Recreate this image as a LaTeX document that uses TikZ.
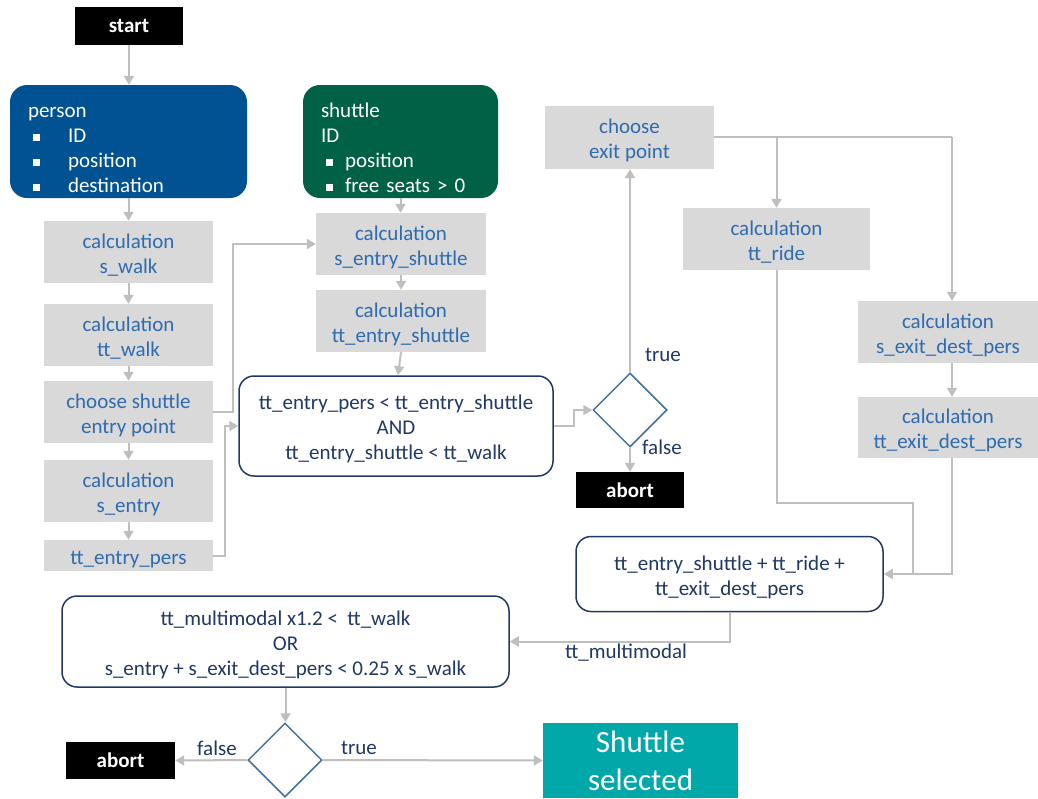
\documentclass[tikz,border=0pt]{standalone}
\usepackage{fontspec}
\setmainfont{Carlito}
\usetikzlibrary{arrows.meta,shapes.geometric}
\definecolor{boxgray}{RGB}{217,217,217}
\definecolor{txtblue}{RGB}{46,107,175}
\definecolor{navy}{RGB}{32,56,100}
\definecolor{diablue}{RGB}{65,113,156}
\definecolor{argray}{RGB}{191,191,191}
\definecolor{personblue}{RGB}{0,82,147}
\definecolor{shuttlegreen}{RGB}{0,97,71}
\definecolor{tealsel}{RGB}{0,168,170}
\newcommand\fsn{\fontsize{21}{25}\selectfont}
\newcommand\bul{\hspace*{5pt}\rule[1.5pt]{7pt}{7pt}}
\newcommand\lowstrut{\rule{0pt}{21pt}}
\tikzset{
  gbox/.style={fill=boxgray, text=txtblue, minimum width=169pt, minimum height=62pt, inner sep=0pt, align=center, font=\fsn},
  blk/.style={fill=black, text=white, inner sep=0pt, font=\fsn\bfseries},
  cond/.style={draw=navy, line width=1.5pt, rounded corners=15pt, text=navy, align=center, inner sep=0pt, font=\fsn},
  dia/.style={diamond, draw=diablue, line width=1.5pt, minimum width=74pt, minimum height=74pt, inner sep=0pt},
  pbox/.style={rounded corners=17pt, text=white, align=left, inner ysep=0pt, font=\fsn, minimum height=113pt},
  arr/.style={draw=argray, line width=2pt, -{Triangle[width=10pt,length=9pt]}},
  ln/.style={draw=argray, line width=2pt},
  lbl/.style={text=navy, font=\fsn, inner sep=0pt}
}
\begin{document}
\begin{tikzpicture}[x=1pt,y=-1pt]
\useasboundingbox (0,0) rectangle (1038,798);
% left column
\node[blk, minimum width=108pt, minimum height=38pt] (start) at (129,26) {start};
\node[pbox, fill=personblue, text width=201pt, inner xsep=18pt] (person) at (128.5,141.5)
  {\rule{0pt}{27pt}person\\ \bul\hspace{28pt}ID\\ \bul\hspace{28pt}position\\ \bul\hspace{28pt}destination};
\node[gbox] (swalk) at (128.5,252) {\lowstrut calculation\\s\_walk};
\node[gbox] (ttwalk) at (128.5,335) {\lowstrut calculation\\tt\_walk};
\node[gbox] (chse) at (128.5,412) {\lowstrut choose shuttle\\entry point};
\node[gbox] (sentry) at (128.5,491) {\lowstrut calculation\\s\_entry};
\node[gbox, minimum height=31pt] (tepers) at (128.5,555.5) {\lowstrut tt\_entry\_pers};
% shuttle column
\node[pbox, fill=shuttlegreen, text width=159pt, inner xsep=18pt, minimum width=195pt] (shuttle) at (400.5,141.5)
  {\rule{0pt}{27pt}shuttle\\ID\\ \bul\hspace{12pt}position\\ \bul\hspace{12pt}free seats > 0};
\node[gbox, minimum width=170pt] (sesh) at (401,244) {\lowstrut calculation\\s\_entry\_shuttle};
\node[gbox, minimum width=170pt] (tesh) at (401,321) {\lowstrut calculation\\tt\_entry\_shuttle};
\node[cond, minimum width=314pt, minimum height=100pt] (cond1) at (396,426)
  {\lowstrut tt\_entry\_pers < tt\_entry\_shuttle\\AND\\tt\_entry\_shuttle < tt\_walk};
\node[dia] (d1) at (630,410) {};
\node[blk, minimum width=108pt, minimum height=36pt] (abort1) at (630,490) {abort};
\node[lbl] (t1) at (663,355) {true};
\node[lbl] (f1) at (662,447) {false};
% right part
\node[gbox, minimum height=63pt] (exitp) at (629.5,137.5) {\lowstrut choose\\exit point};
\node[gbox, minimum width=187pt] (ride) at (776.5,239) {\lowstrut calculation\\tt\_ride};
\node[gbox, minimum width=180pt] (sexit) at (948,332) {\lowstrut calculation\\s\_exit\_dest\_pers};
\node[gbox, minimum width=180pt, minimum height=61pt] (texit) at (948,427.5) {\lowstrut calculation\\tt\_exit\_dest\_pers};
\node[cond, minimum width=307pt, minimum height=75pt] (sum) at (729.5,574)
  {\lowstrut tt\_entry\_shuttle + tt\_ride +\\tt\_exit\_dest\_pers};
\node[lbl] (ttm) at (626,653) {tt\_multimodal};
% bottom
\node[cond, minimum width=447pt, minimum height=91pt] (cond2) at (285.5,641.5)
  {\lowstrut tt\_multimodal x1.2 <\ \ tt\_walk\\OR\\s\_entry + s\_exit\_dest\_pers < 0.25 x s\_walk};
\node[dia] (d2) at (285,760) {};
\node[blk, minimum width=109pt, minimum height=37pt] (abort2) at (120.5,760.5) {abort};
\node[fill=tealsel, text=white, minimum width=195pt, minimum height=75pt, inner sep=0pt, align=center,
  font=\fontsize{31}{38}\selectfont] (sel) at (640.5,760.5) {Shuttle\\selected};
\node[lbl] (f2) at (217,748) {false};
\node[lbl] (t2) at (359,748) {true};
% helper coordinates
\coordinate (rt) at (952,137);
\coordinate (jn) at (913,503);
% connectors
\draw[arr] (start.south) -- (start.south |- person.north);
\draw[arr] (person) -- (swalk);
\draw[arr] (swalk) -- (ttwalk);
\draw[arr] (ttwalk) -- (chse);
\draw[arr] (chse) -- (sentry);
\draw[arr] (sentry) -- (tepers);
\draw[arr] (shuttle.south) -- (shuttle.south |- sesh.north);
\draw[arr] (sesh) -- (tesh);
\draw[arr] (tesh.south) -- ([xshift=-3pt]tesh.south |- cond1.north);
\draw[arr] (chse.east) -- ++(20,0) |- (sesh.west);
\draw[arr] (tepers.east) -- ++(12,0) |- (cond1.west);
\draw[arr] (cond1.east) -- ++(20,0) |- (d1.west);
\draw[arr] (d1.north) -- (d1.north |- exitp.south);
\draw[arr] (d1.south) -- (abort1.north);
\draw[ln] (exitp.east |- rt) -- (rt);
\draw[arr] (rt) -- (rt |- sexit.north);
\draw[arr] (ride.north |- rt) -- (ride.north);
\draw[arr] (rt |- sexit.south) -- (rt |- texit.north);
\draw[arr] (rt |- texit.south) |- (sum.east);
\draw[ln] (ride.south) |- (jn) -- (jn |- sum.east);
\draw[arr] (sum.south) |- (cond2.east);
\draw[arr] (cond2.south) -- (cond2.south |- d2.north);
\draw[arr] (d2.west) -- (abort2.east);
\draw[arr] (d2.east) -- (sel.west);
\end{tikzpicture}
\end{document}
